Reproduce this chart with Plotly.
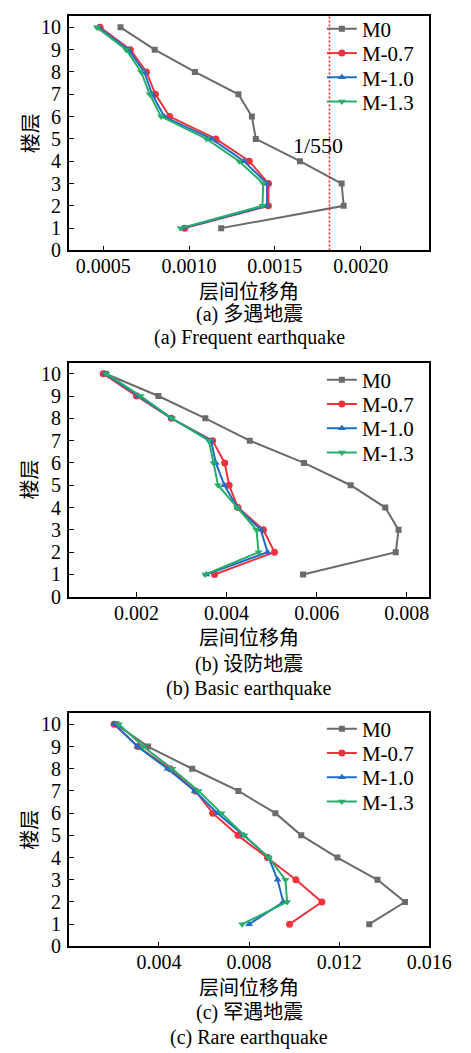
import plotly.graph_objects as go

W, H = 471, 1053

floors = [1, 2, 3, 4, 5, 6, 7, 8, 9, 10]
series_names = ["M0", "M-0.7", "M-1.0", "M-1.3"]

# (a) Frequent earthquake
a_M0 = [0.001187, 0.001901, 0.001889, 0.001646, 0.001389, 0.001366, 0.001288, 0.001034, 0.000800, 0.000601]
a_M07 = [0.000975, 0.001462, 0.001463, 0.001351, 0.001157, 0.000887, 0.000804, 0.000752, 0.000658, 0.000482]
a_M10 = [0.000964, 0.001454, 0.001454, 0.001320, 0.001132, 0.000855, 0.000785, 0.000739, 0.000647, 0.000472]
a_M13 = [0.000951, 0.001428, 0.001432, 0.001292, 0.001102, 0.000837, 0.000771, 0.000721, 0.000634, 0.000463]

# (b) Basic earthquake
b_M0 = [0.005697, 0.007754, 0.007817, 0.007521, 0.006754, 0.005718, 0.004514, 0.003528, 0.002486, 0.001317]
b_M07 = [0.003732, 0.005063, 0.004817, 0.004254, 0.004056, 0.003958, 0.003690, 0.002775, 0.002000, 0.001261]
b_M10 = [0.003549, 0.004908, 0.004760, 0.004240, 0.003951, 0.003761, 0.003655, 0.002775, 0.002049, 0.001296]
b_M13 = [0.003528, 0.004711, 0.004662, 0.004232, 0.003810, 0.003711, 0.003606, 0.002789, 0.002092, 0.001331]

# (c) Rare earthquake
c_M0 = [0.013333, 0.014919, 0.013698, 0.011916, 0.010316, 0.009165, 0.007523, 0.005474, 0.003509, 0.002105]
c_M07 = [0.009796, 0.011228, 0.010077, 0.008814, 0.007509, 0.006386, 0.005614, 0.004491, 0.003060, 0.002007]
c_M10 = [0.008000, 0.009516, 0.009263, 0.008870, 0.007761, 0.006596, 0.005586, 0.004379, 0.003046, 0.002035]
c_M13 = [0.007691, 0.009684, 0.009614, 0.008870, 0.007789, 0.006779, 0.005754, 0.004589, 0.003298, 0.002218]

limit_drift = 1 / 550
limit_label = "1/550"

a_ticks = [0.0005, 0.0010, 0.0015, 0.0020]
b_ticks = [0.002, 0.004, 0.006, 0.008]
c_ticks = [0.004, 0.008, 0.012, 0.016]
y_ticks = list(range(0, 11))

x_title = "层间位移角"
y_title = "楼层"
captions_cn = ["(a) 多遇地震", "(b) 设防地震", "(c) 罕遇地震"]
captions_en = ["(a) Frequent earthquake", "(b) Basic earthquake", "(c) Rare earthquake"]

colors = ["#6b6b6b", "#f0323c", "#1e6ec8", "#27ae68"]
symbols = ["square", "circle", "triangle-up", "triangle-down"]
msizes = [6, 7, 7, 7]

LAT = "Liberation Serif"
MIX = "Liberation Serif, Noto Sans CJK SC"
CJK = "Noto Sans CJK SC"

panels = [
    dict(data=[a_M0, a_M07, a_M10, a_M13], xr=[0.0003, 0.0024], ticks=a_ticks, fmt="%.4f",
         top=8.3, bottom=245.0, leg0=22.7),
    dict(data=[b_M0, b_M07, b_M10, b_M13], xr=[0.0005, 0.0085], ticks=b_ticks, fmt="%.3f",
         top=358.3, bottom=595.0, leg0=377.3),
    dict(data=[c_M0, c_M07, c_M10, c_M13], xr=[0.0, 0.016], ticks=c_ticks, fmt="%.3f",
         top=712.7, bottom=948.3, leg0=730.0),
]
title_y = [285, 635, 989]
cap1_y = [310, 663, 1015]
cap2_y = [333, 688, 1040]
LEG_STEP = 24.5
LEG_HALF = 22.0

X0, X1 = 64.0, 443.0

def py(p):
    return 1 - p / H

fig = go.Figure()
annotations = []
layout = {}
for i, p in enumerate(panels):
    k = "" if i == 0 else str(i + 1)
    xa, ya = "x" + k, "y" + k
    for j, name in enumerate(series_names):
        idx = i * 4 + j
        leg = "legend" if idx == 0 else "legend" + str(idx + 1)
        fig.add_trace(go.Scatter(
            x=p["data"][j], y=floors, mode="lines+markers", name=name, showlegend=True,
            line=dict(color=colors[j], width=2),
            marker=dict(symbol=symbols[j], size=msizes[j], color=colors[j]),
            xaxis=xa, yaxis=ya, legend=leg,
        ))
        layout[leg] = dict(x=330 / W, xanchor="left",
                           y=py(max(p["leg0"] + j * LEG_STEP - LEG_HALF, 0.5)), yanchor="top",
                           bgcolor="rgba(0,0,0,0)", borderwidth=0, visible=True,
                           font=dict(family=LAT, size=21, color="black"))
    axis_common = dict(showline=True, linecolor="black", linewidth=1.5, mirror=True,
                       ticks="inside", ticklen=5, tickwidth=1.2, tickcolor="black",
                       showgrid=False, zeroline=False,
                       tickfont=dict(family=LAT, size=20, color="black"))
    layout["xaxis" + k] = dict(axis_common, domain=[X0 / W, X1 / W], range=p["xr"],
                               tickvals=p["ticks"], ticktext=[p["fmt"] % v for v in p["ticks"]],
                               anchor=ya, ticklabelstandoff=-3)
    layout["yaxis" + k] = dict(axis_common, domain=[py(p["bottom"]), py(p["top"])], range=[0, 10.5],
                               tickvals=y_ticks, anchor=xa, ticklabelstandoff=2)
    cx = (X0 + X1) / 2 / W
    annotations.append(dict(x=cx, y=py(title_y[i]), xref="paper", yref="paper", text=x_title,
                            showarrow=False, font=dict(family=CJK, size=20, color="black"),
                            xanchor="center", yanchor="middle"))
    annotations.append(dict(x=cx, y=py(cap1_y[i]), xref="paper", yref="paper", text=captions_cn[i],
                            showarrow=False, font=dict(family=MIX, size=20, color="black"),
                            xanchor="center", yanchor="middle"))
    annotations.append(dict(x=cx, y=py(cap2_y[i]), xref="paper", yref="paper", text=captions_en[i],
                            showarrow=False, font=dict(family=LAT, size=20, color="black"),
                            xanchor="center", yanchor="middle"))
    annotations.append(dict(x=22 / W, y=py((p["top"] + p["bottom"]) / 2), xref="paper", yref="paper",
                            text=y_title, textangle=-90, showarrow=False,
                            font=dict(family=CJK, size=20, color="black"),
                            xanchor="center", yanchor="middle"))

# 1/550 limit line in panel (a)
annotations.append(dict(x=0.00175, y=4.7, xref="x", yref="y", text=limit_label, showarrow=False,
                        font=dict(family=LAT, size=22, color="black"), xanchor="center", yanchor="middle"))
shapes = [dict(type="line", xref="x", yref="y", x0=limit_drift, x1=limit_drift, y0=0, y1=10.5,
               line=dict(color="#ff1a1a", width=1.5, dash="2px,2px"))]

fig.update_layout(width=W, height=H, margin=dict(l=0, r=0, t=0, b=0), showlegend=True,
                  paper_bgcolor="white", plot_bgcolor="white",
                  annotations=annotations, shapes=shapes, **layout)
fig.write_html("out.html")
